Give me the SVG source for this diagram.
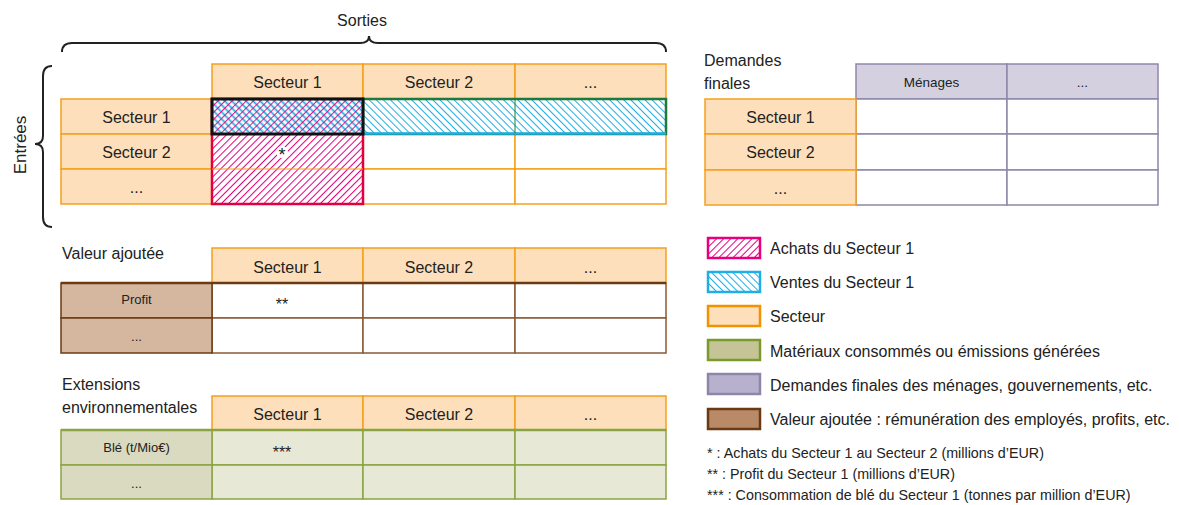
<svg xmlns="http://www.w3.org/2000/svg" width="1179" height="505" viewBox="0 0 1179 505">
<defs>
<pattern id="hPink" patternUnits="userSpaceOnUse" width="5" height="5" patternTransform="rotate(45)">
<rect width="5" height="5" fill="#fff"/>
<line x1="0" y1="0" x2="0" y2="5" stroke="#E6007E" stroke-width="2"/>
</pattern>
<pattern id="hCyan" patternUnits="userSpaceOnUse" width="5" height="5" patternTransform="rotate(-45)">
<rect width="5" height="5" fill="#fff"/>
<line x1="0" y1="0" x2="0" y2="5" stroke="#1FAEE6" stroke-width="2"/>
</pattern>
<pattern id="hCross" patternUnits="userSpaceOnUse" width="5" height="5" patternTransform="rotate(45)">
<rect width="5" height="5" fill="#fff"/>
<line x1="0" y1="2.5" x2="5" y2="2.5" stroke="#1FAEE6" stroke-width="1.8"/>
<line x1="0" y1="0" x2="0" y2="5" stroke="#E6007E" stroke-width="1.8"/>
</pattern>
</defs>
<style>
text{font-family:"Liberation Sans",Arial,sans-serif;fill:#222;}
.t16{font-size:16px;}
.t13{font-size:13px;}
.t14{font-size:14.3px;}
.c{text-anchor:middle;dominant-baseline:central;}
.sec{fill:#FDDFBB;stroke:#F5A01E;stroke-width:1.5;}
.wo{fill:#fff;stroke:#F5A01E;stroke-width:1.5;}
.pur{fill:#D4D0E0;stroke:#8E86AA;stroke-width:1.5;}
.wp{fill:#fff;stroke:#8E86AA;stroke-width:1.5;}
.br{fill:#D5B69E;stroke:#6B3A12;stroke-width:1.5;}
.wb{fill:#fff;stroke:#8A5A34;stroke-width:1.5;}
.gl{fill:#DADAC0;stroke:#8AA443;stroke-width:1.5;}
.gb{fill:#E8E8D6;stroke:#8AA443;stroke-width:1.5;}
.brace{fill:none;stroke:#222;stroke-width:2;}
</style>

<g id="braces">
<path class="brace" d="M62,52 Q62,43 72,43 L360,43 Q369,43 369,36 Q369,43 378,43 L656,43 Q666,43 666,52"/>
<text class="t16" x="362" y="26" text-anchor="middle" font-size="17">Sorties</text>
<path class="brace" d="M52,66 Q43,66 43,76 L43,136 Q43,144 35,144 Q43,144 43,152 L43,217 Q43,227 52,227"/>
<text x="20" y="145" font-size="17" text-anchor="middle" dominant-baseline="central" transform="rotate(-90 20 145)">Entrées</text>
</g>

<g id="main-table">
<rect class="sec" x="212" y="64" width="151" height="35"/>
<rect class="sec" x="363" y="64" width="152" height="35"/>
<rect class="sec" x="515" y="64" width="151" height="35"/>
<text class="t16 c" x="287.5" y="82">Secteur 1</text>
<text class="t16 c" x="439" y="82">Secteur 2</text>
<text class="t16 c" x="590.5" y="82">...</text>
<rect class="sec" x="61" y="99" width="151" height="35"/>
<rect class="sec" x="61" y="134" width="151" height="35"/>
<rect class="sec" x="61" y="169" width="151" height="35"/>
<text class="t16 c" x="136.5" y="117">Secteur 1</text>
<text class="t16 c" x="136.5" y="152">Secteur 2</text>
<text class="t16 c" x="136.5" y="187">...</text>
<rect class="wo" x="363" y="134" width="152" height="35"/>
<rect class="wo" x="515" y="134" width="151" height="35"/>
<rect class="wo" x="363" y="169" width="152" height="35"/>
<rect class="wo" x="515" y="169" width="151" height="35"/>
<rect x="212" y="99" width="151" height="105" fill="url(#hPink)" stroke="#E2003C" stroke-width="2.5"/>
<line x1="212" y1="169" x2="363" y2="169" stroke="#F5A01E" stroke-width="1.2"/>
<rect x="363" y="99" width="303" height="35" fill="url(#hCyan)" stroke="#1E7A3A" stroke-width="2.5"/>
<line x1="363" y1="133.5" x2="666" y2="133.5" stroke="#1FAEE6" stroke-width="2.5"/>
<line x1="515" y1="100" x2="515" y2="133" stroke="#1E7A3A" stroke-width="1"/>
<rect x="212" y="99" width="151" height="35" fill="url(#hCross)" stroke="#111" stroke-width="3"/>
<circle cx="282" cy="152" r="6" fill="#fff"/>
<text class="c" x="282" y="155" font-size="18">*</text>
</g>

<g id="final-demand">
<text class="t16" x="704" y="66">Demandes</text>
<text class="t16" x="704" y="89">finales</text>
<rect class="pur" x="856" y="64" width="151" height="35"/>
<rect class="pur" x="1007" y="64" width="151" height="35"/>
<text class="c" x="931.5" y="82" font-size="13.5">Ménages</text>
<text class="c" x="1082.5" y="82" font-size="13.5">...</text>
<rect class="wp" x="856" y="99" width="151" height="35"/>
<rect class="wp" x="1007" y="99" width="151" height="35"/>
<rect class="wp" x="856" y="134" width="151" height="36"/>
<rect class="wp" x="1007" y="134" width="151" height="36"/>
<rect class="wp" x="856" y="170" width="151" height="35"/>
<rect class="wp" x="1007" y="170" width="151" height="35"/>
<rect class="sec" x="705" y="99" width="151" height="35" stroke="#F39200" stroke-width="2.5"/>
<rect class="sec" x="705" y="134" width="151" height="36" stroke="#F39200" stroke-width="2.5"/>
<rect class="sec" x="705" y="170" width="151" height="35" stroke="#F39200" stroke-width="2.5"/>
<text class="t16 c" x="780.5" y="117">Secteur 1</text>
<text class="t16 c" x="780.5" y="152">Secteur 2</text>
<text class="t16 c" x="780.5" y="188">...</text>
</g>

<g id="value-added">
<text class="t16" x="62" y="259">Valeur ajoutée</text>
<rect class="sec" x="212" y="248" width="151" height="35"/>
<rect class="sec" x="363" y="248" width="152" height="35"/>
<rect class="sec" x="515" y="248" width="151" height="35"/>
<text class="t16 c" x="287.5" y="267">Secteur 1</text>
<text class="t16 c" x="439" y="267">Secteur 2</text>
<text class="t16 c" x="590.5" y="267">...</text>
<rect class="wb" x="212" y="283" width="151" height="35"/>
<rect class="wb" x="363" y="283" width="152" height="35"/>
<rect class="wb" x="515" y="283" width="151" height="35"/>
<rect class="wb" x="212" y="318" width="151" height="35"/>
<rect class="wb" x="363" y="318" width="152" height="35"/>
<rect class="wb" x="515" y="318" width="151" height="35"/>
<rect class="br" x="61" y="283" width="151" height="35"/>
<rect class="br" x="61" y="318" width="151" height="35"/>
<line x1="61" y1="283" x2="666" y2="283" stroke="#6B3A12" stroke-width="2.5"/>
<text class="t13 c" x="136.5" y="299">Profit</text>
<text class="t13 c" x="136.5" y="336">...</text>
<text class="c" x="282" y="304" font-size="16">**</text>
</g>

<g id="extensions">
<text class="t16" x="62" y="390">Extensions</text>
<text class="t16" x="62" y="413">environnementales</text>
<rect class="sec" x="212" y="396" width="151" height="34"/>
<rect class="sec" x="363" y="396" width="152" height="34"/>
<rect class="sec" x="515" y="396" width="151" height="34"/>
<text class="t16 c" x="287.5" y="414">Secteur 1</text>
<text class="t16 c" x="439" y="414">Secteur 2</text>
<text class="t16 c" x="590.5" y="414">...</text>
<rect class="gb" x="212" y="430" width="151" height="35"/>
<rect class="gb" x="363" y="430" width="152" height="35"/>
<rect class="gb" x="515" y="430" width="151" height="35"/>
<rect class="gb" x="212" y="465" width="151" height="34"/>
<rect class="gb" x="363" y="465" width="152" height="34"/>
<rect class="gb" x="515" y="465" width="151" height="34"/>
<rect class="gl" x="61" y="430" width="151" height="35"/>
<rect class="gl" x="61" y="465" width="151" height="34"/>
<line x1="61" y1="430" x2="666" y2="430" stroke="#8AA443" stroke-width="2.5"/>
<text class="t13 c" x="136.5" y="447">Blé (t/Mio€)</text>
<text class="t13 c" x="136.5" y="483">...</text>
<text class="c" x="282" y="452" font-size="16">***</text>
</g>

<g id="legend">
<rect x="708" y="238" width="52" height="20" fill="url(#hPink)" stroke="#E6007E" stroke-width="2.5"/>
<text class="t16" x="770" y="254">Achats du Secteur 1</text>
<rect x="708" y="272" width="52" height="20" fill="url(#hCyan)" stroke="#1FAEE6" stroke-width="2.5"/>
<text class="t16" x="770" y="288">Ventes du Secteur 1</text>
<rect x="708" y="306" width="52" height="20" fill="#FDDFBB" stroke="#F39200" stroke-width="2.5"/>
<text class="t16" x="770" y="322">Secteur</text>
<rect x="708" y="340" width="52" height="20" fill="#C4C496" stroke="#7A9A2E" stroke-width="2.5"/>
<text class="t16" x="770" y="357">Matériaux consommés ou émissions générées</text>
<rect x="708" y="374" width="52" height="20" fill="#B7B1CD" stroke="#8E86AA" stroke-width="2.5"/>
<text class="t16" x="770" y="391">Demandes finales des ménages, gouvernements, etc.</text>
<rect x="708" y="409" width="52" height="20" fill="#B88A68" stroke="#6B3A12" stroke-width="2.5"/>
<text class="t16" x="770" y="425">Valeur ajoutée : rémunération des employés, profits, etc.</text>
<text class="t14" x="707" y="458">* : Achats du Secteur 1 au Secteur 2 (millions d’EUR)</text>
<text class="t14" x="707" y="479">** : Profit du Secteur 1 (millions d’EUR)</text>
<text class="t14" x="707" y="500">*** : Consommation de blé du Secteur 1 (tonnes par million d’EUR)</text>
</g>
</svg>
